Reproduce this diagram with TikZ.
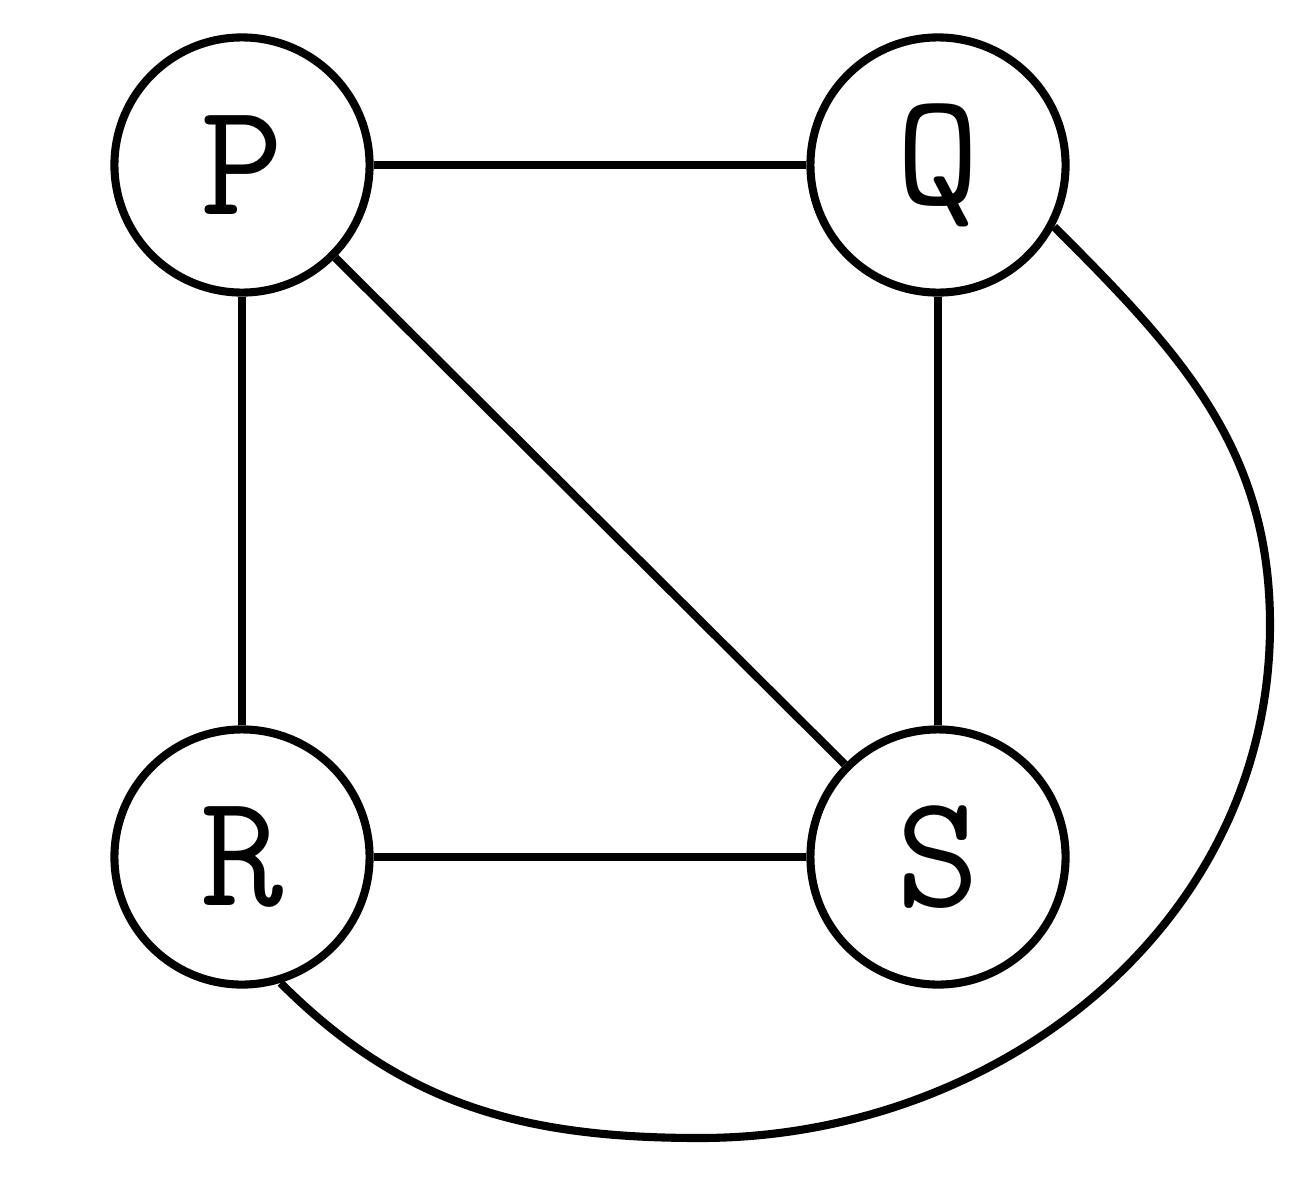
\documentclass[tikz,border=0pt]{standalone}
\begin{document}
\begin{tikzpicture}[x=0.01cm,y=-0.01cm,
  vtx/.style={circle,draw,line width=2.3pt,minimum size=2.55cm,inner sep=0pt,font=\ttfamily\fontsize{46}{46}\selectfont},
  edge/.style={line width=2.3pt}]
\useasboundingbox (0,0) rectangle (1309,1200);
\node[vtx] (P) at (242,165) {P};
\node[vtx] (Q) at (938,165) {Q};
\node[vtx] (R) at (242,857) {R};
\node[vtx] (S) at (938,857) {S};
\coordinate (c1) at (1270,625);
\coordinate (c2) at (700,1138);
\draw[edge] (P) -- (Q);
\draw[edge] (P) -- (R);
\draw[edge] (P) -- (S);
\draw[edge] (Q) -- (S);
\draw[edge] (R) -- (S);
\draw[edge] (Q.-28) to[out=-45,in=90] (c1) to[out=-90,in=0] (c2) to[out=180,in=-45] (R.-73);
\end{tikzpicture}
\end{document}
